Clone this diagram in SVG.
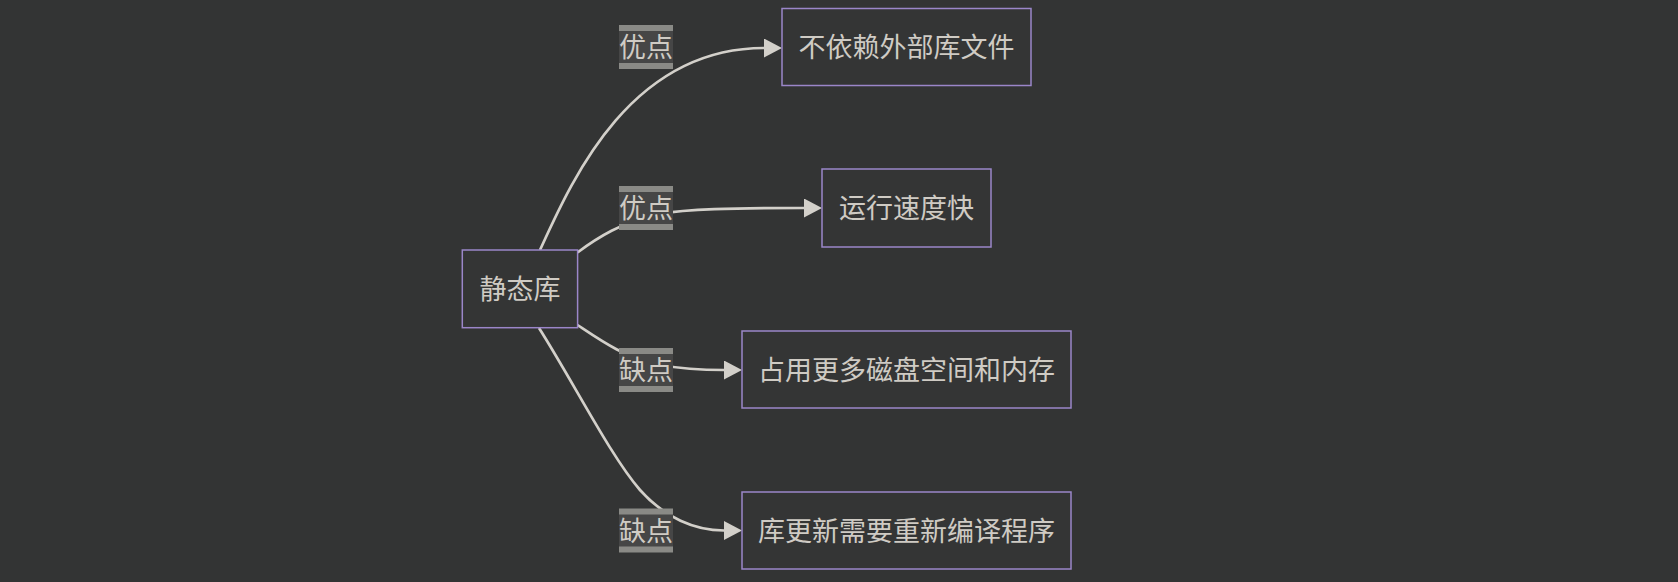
<svg xmlns="http://www.w3.org/2000/svg" width="1678" height="582" viewBox="0 0 1678 582">
<defs>
<style>
.node rect{fill:#343535;stroke:#9b86c9;stroke-width:1.5}
.node text,.lbl text{font-family:"Noto Sans CJK SC","Noto Sans",sans-serif;font-size:27px;fill:#cfcbc4;text-anchor:middle}
.edge{fill:none;stroke:#d3d0ca;stroke-width:2.7}
.lbl .o{fill:#8a8a86}
.lbl .i{fill:#464646}
</style>
<marker id="arr" markerUnits="userSpaceOnUse" markerWidth="18" markerHeight="19" refX="0" refY="9.5" orient="auto">
<path d="M0,0 L18,9.5 L0,19 z" fill="#d3d0ca"/>
</marker>
</defs>
<rect width="1678" height="582" fill="#333434"/>
<g id="edges">
<path class="edge" marker-end="url(#arr)" d="M540,250 C572,180 630,48 764,48"/>
<path class="edge" marker-end="url(#arr)" d="M577.5,252.5 C597,238 622,222 658,214 C688,209 730,208 804,208"/>
<path class="edge" marker-end="url(#arr)" d="M577.5,325 C600,340 625,358 660,365 C685,369.5 705,370 724,370"/>
<path class="edge" marker-end="url(#arr)" d="M539,328 C575,385 610,455 640,490 C665,518 695,530.5 724,530.5"/>
</g>
<g id="labels">
<g class="lbl" id="label1"><rect class="o" x="619" y="25" width="54" height="44"/><rect class="i" x="619" y="31" width="54" height="32"/><text x="646" y="57">优点</text></g>
<g class="lbl" id="label2"><rect class="o" x="619" y="186" width="54" height="44"/><rect class="i" x="619" y="192" width="54" height="32"/><text x="646" y="218">优点</text></g>
<g class="lbl" id="label3"><rect class="o" x="619" y="348" width="54" height="44"/><rect class="i" x="619" y="354" width="54" height="32"/><text x="646" y="380">缺点</text></g>
<g class="lbl" id="label4"><rect class="o" x="619" y="508.5" width="54" height="44"/><rect class="i" x="619" y="514.5" width="54" height="32"/><text x="646" y="540.5">缺点</text></g>
</g>
<g class="node" id="static"><rect x="462.3" y="250" width="115.3" height="77.7"/><text x="520" y="299">静态库</text></g>
<g class="node" id="n1"><rect x="782" y="8.5" width="249" height="77"/><text x="906.5" y="57">不依赖外部库文件</text></g>
<g class="node" id="n2"><rect x="822" y="169" width="169" height="78"/><text x="906.5" y="218">运行速度快</text></g>
<g class="node" id="n3"><rect x="742" y="331" width="329" height="77"/><text x="906.5" y="379.5">占用更多磁盘空间和内存</text></g>
<g class="node" id="n4"><rect x="742" y="492" width="329" height="77"/><text x="906.5" y="540.5">库更新需要重新编译程序</text></g>
</svg>
